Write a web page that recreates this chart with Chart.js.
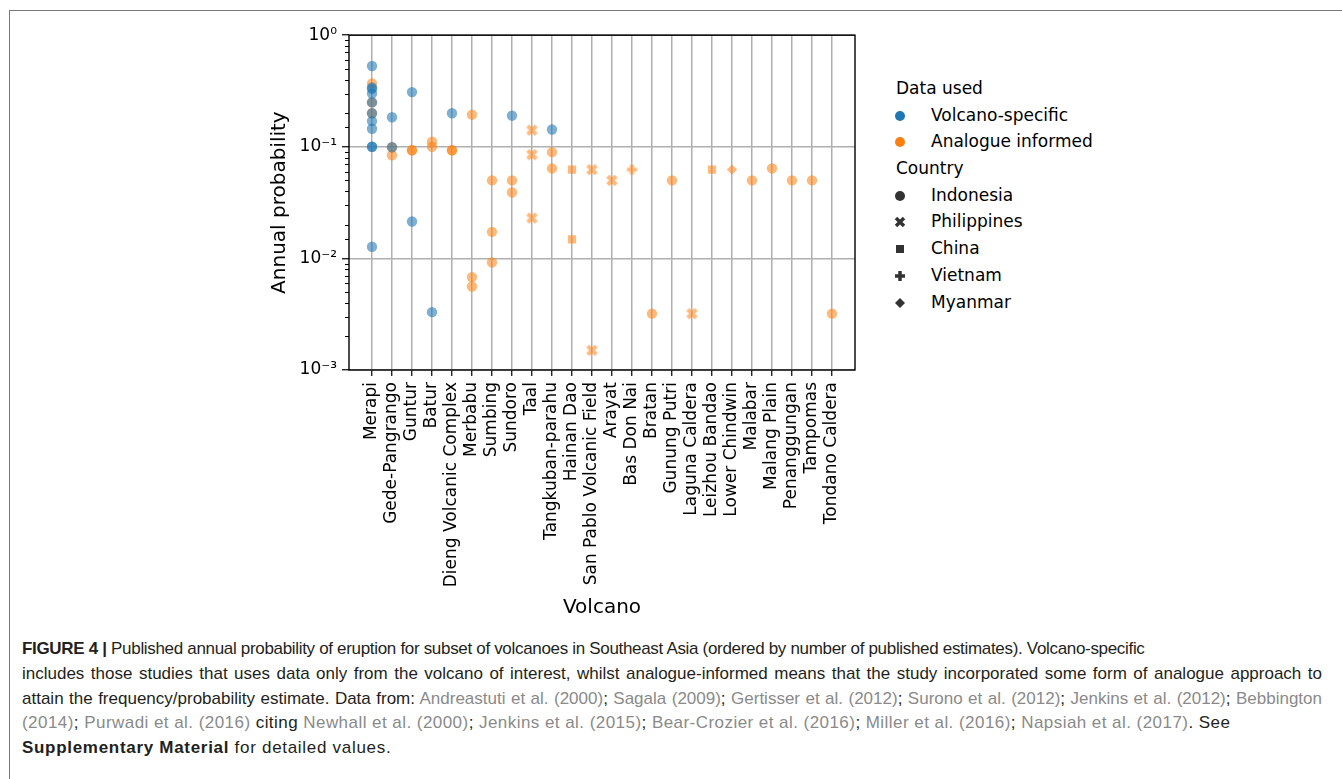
<!DOCTYPE html>
<html>
<head>
<meta charset="utf-8">
<script src="https://cdn.jsdelivr.net/npm/chart.js@4.4.0/dist/chart.umd.min.js"></script>
<style>
  body { margin: 0; background: #fff; width: 1342px; height: 779px; overflow: hidden; position: relative; font-family: "DejaVu Sans", sans-serif; }
  #frame { position: absolute; left: 9px; top: 10px; right: -5px; bottom: -5px; border-top: 1px solid #777; border-left: 1px solid #777; }
  #wrap { position: absolute; left: 240px; top: 20px; width: 630px; height: 610px; }
  #legend { position: absolute; left: 895px; top: 75px; font-size: 17px; color: #000; }
  #legend .row { height: 26.7px; line-height: 26.7px; white-space: nowrap; position: relative; }
  #legend .head { padding-left: 1px; }
  #legend svg { position: absolute; left: -1px; top: 8px; }
  #legend .txt { padding-left: 36px; }
  #caption { position: absolute; left: 22px; top: 637px; width: 1300px; font-family: "Liberation Sans", Arial, sans-serif; font-size: 17px; color: #231f20; }
  #caption .ln { height: 24.8px; line-height: 24.8px; white-space: nowrap; }
  #caption .just { text-align: justify; text-align-last: justify; white-space: normal; }
  #caption .ref { color: #8a8a8a; }
</style>
</head>
<body>
<div id="frame"></div>
<div id="wrap"><canvas id="chart"></canvas></div>

<div id="legend">
  <div class="row head">Data used</div>
  <div class="row"><svg width="12" height="12"><circle cx="6" cy="6" r="5" fill="#1f77b4"/></svg><span class="txt">Volcano-specific</span></div>
  <div class="row"><svg width="12" height="12"><circle cx="6" cy="6" r="5" fill="#ff7f0e"/></svg><span class="txt">Analogue informed</span></div>
  <div class="row head">Country</div>
  <div class="row"><svg width="12" height="12"><circle cx="6" cy="6" r="5" fill="#333"/></svg><span class="txt">Indonesia</span></div>
  <div class="row"><svg width="12" height="12"><path d="M2 2 L10 10 M10 2 L2 10" stroke="#333" stroke-width="3.5"/></svg><span class="txt">Philippines</span></div>
  <div class="row"><svg width="12" height="12"><rect x="2" y="2" width="8" height="8" fill="#333"/></svg><span class="txt">China</span></div>
  <div class="row"><svg width="12" height="12"><path d="M6 1 L6 11 M1 6 L11 6" stroke="#333" stroke-width="3.5"/></svg><span class="txt">Vietnam</span></div>
  <div class="row"><svg width="12" height="12"><path d="M6 1 L11 6 L6 11 L1 6 Z" fill="#333"/></svg><span class="txt">Myanmar</span></div>
</div>

<div id="caption">
  <div class="ln" style="letter-spacing:-0.32px"><b>FIGURE 4 |</b> Published annual probability of eruption for subset of volcanoes in Southeast Asia (ordered by number of published estimates). Volcano-specific</div>
  <div class="ln just">includes those studies that uses data only from the volcano of interest, whilst analogue-informed means that the study incorporated some form of analogue approach to</div>
  <div class="ln just">attain the frequency/probability estimate. Data from: <span class="ref">Andreastuti et al. (2000)</span>; <span class="ref">Sagala (2009)</span>; <span class="ref">Gertisser et al. (2012)</span>; <span class="ref">Surono et al. (2012)</span>; <span class="ref">Jenkins et al. (2012)</span>; <span class="ref">Bebbington</span></div>
  <div class="ln" style="letter-spacing:0.45px"><span class="ref">(2014)</span>; <span class="ref">Purwadi et al. (2016)</span> citing <span class="ref">Newhall et al. (2000)</span>; <span class="ref">Jenkins et al. (2015)</span>; <span class="ref">Bear-Crozier et al. (2016)</span>; <span class="ref">Miller et al. (2016)</span>; <span class="ref">Napsiah et al. (2017)</span>. See</div>
  <div class="ln" style="letter-spacing:0.7px"><b>Supplementary Material</b> for detailed values.</div>
</div>

<script>
// volcanoes, ordered by number of published estimates
const volcanoes = ['Merapi', 'Gede-Pangrango', 'Guntur', 'Batur', 'Dieng Volcanic Complex', 'Merbabu', 'Sumbing', 'Sundoro',
  'Taal', 'Tangkuban-parahu', 'Hainan Dao', 'San Pablo Volcanic Field', 'Arayat', 'Bas Don Nai', 'Bratan', 'Gunung Putri',
  'Laguna Caldera', 'Leizhou Bandao', 'Lower Chindwin', 'Malabar', 'Malang Plain', 'Penanggungan', 'Tampomas', 'Tondano Caldera'];

const country = ['Indonesia', 'Indonesia', 'Indonesia', 'Indonesia', 'Indonesia', 'Indonesia', 'Indonesia', 'Indonesia',
  'Philippines', 'Indonesia', 'China', 'Philippines', 'Philippines', 'Vietnam', 'Indonesia', 'Indonesia',
  'Philippines', 'China', 'Myanmar', 'Indonesia', 'Indonesia', 'Indonesia', 'Indonesia', 'Indonesia'];

// annual probability estimates per volcano
const volcanoSpecific = [
  [0.53, 0.34, 0.33, 0.30, 0.25, 0.20, 0.17, 0.145, 0.10, 0.10, 0.0127],
  [0.184, 0.099],
  [0.309, 0.0214],
  [0.0033],
  [0.20],
  [], [],
  [0.19],
  [],
  [0.143],
  [], [], [], [], [], [], [], [], [], [], [], [], [], []
];

const analogueInformed = [
  [0.37, 0.25, 0.20],
  [0.099, 0.084],
  [0.093, 0.093],
  [0.111, 0.10],
  [0.093, 0.093],
  [0.194, 0.0068, 0.0056],
  [0.05, 0.0173, 0.0092],
  [0.05, 0.039],
  [0.141, 0.085, 0.023],
  [0.0896, 0.064],
  [0.0625, 0.0148],
  [0.0625, 0.0015],
  [0.05],
  [0.0625],
  [0.0032],
  [0.05],
  [0.0032],
  [0.0625],
  [0.0625],
  [0.05],
  [0.064],
  [0.05],
  [0.05],
  [0.0032]
];

const decadeLabels = ['10⁻³', '10⁻²', '10⁻¹', '10⁰'];

const BLUE = 'rgba(31,119,180,0.58)';
const ORANGE = 'rgba(255,127,14,0.55)';

const toPoints = arr => arr.flatMap((vals, i) => vals.map(v => ({ x: i, y: v })));

function isDecade(v) {
  const l = Math.log10(v);
  return Math.abs(l - Math.round(l)) < 1e-9;
}

// filled X and plus markers, like matplotlib 'X' and 'P'
function strokeMarker(color, kind) {
  const c = document.createElement('canvas');
  c.width = 13; c.height = 13;
  const g = c.getContext('2d');
  g.strokeStyle = color;
  g.lineWidth = 4.2;
  g.beginPath();
  if (kind === 'x') {
    g.moveTo(2.3, 2.3); g.lineTo(10.7, 10.7);
    g.moveTo(10.7, 2.3); g.lineTo(2.3, 10.7);
  } else {
    g.moveTo(6.5, 1.5); g.lineTo(6.5, 11.5);
    g.moveTo(1.5, 6.5); g.lineTo(11.5, 6.5);
  }
  g.stroke();
  return c;
}

const markers = {};
[BLUE, ORANGE].forEach(col => {
  markers[col] = {
    Indonesia: 'circle',
    Philippines: strokeMarker(col, 'x'),
    China: 'rect',
    Vietnam: strokeMarker(col, 'plus'),
    Myanmar: 'rectRot'
  };
});

function dataset(label, values, color) {
  return {
    label,
    data: toPoints(values),
    backgroundColor: color,
    pointBorderWidth: 0,
    pointRadius: ctx => country[ctx.raw.x] === 'China' ? 5.8 : 5.2,
    pointStyle: ctx => markers[color][country[ctx.raw.x]]
  };
}

const framePlugin = {
  id: 'frameAndMinor',
  afterDraw(chart) {
    const { ctx, chartArea: a } = chart;
    const y = chart.scales.y;
    ctx.save();
    ctx.strokeStyle = '#000';
    ctx.lineWidth = 1;
    y.ticks.forEach(t => {
      if (isDecade(t.value)) return;
      const py = Math.round(y.getPixelForValue(t.value)) + 0.5;
      ctx.beginPath();
      ctx.moveTo(a.left, py);
      ctx.lineTo(a.left - 4, py);
      ctx.stroke();
    });
    ctx.lineWidth = 1.4;
    ctx.strokeRect(a.left, a.top, a.right - a.left, a.bottom - a.top);
    ctx.restore();
  }
};

new Chart(document.getElementById('chart'), {
  type: 'scatter',
  data: {
    datasets: [
      dataset('Volcano-specific', volcanoSpecific, BLUE),
      dataset('Analogue informed', analogueInformed, ORANGE)
    ]
  },
  options: {
    responsive: true,
    maintainAspectRatio: false,
    animation: false,
    layout: { padding: { top: 15, right: 15, left: 0, bottom: 0 } },
    plugins: { legend: { display: false }, tooltip: { enabled: false } },
    scales: {
      x: {
        type: 'linear',
        min: -1.15,
        max: 24.15,
        afterBuildTicks: s => { s.ticks = volcanoes.map((_, i) => ({ value: i })); },
        afterFit: s => { s.height = 260; },
        ticks: {
          autoSkip: false,
          minRotation: 90,
          maxRotation: 90,
          padding: 6,
          color: '#000',
          font: { family: 'DejaVu Sans', size: 17 },
          callback: v => volcanoes[v]
        },
        grid: { color: '#b0b0b0', lineWidth: 1.5, tickLength: 6, tickColor: '#000', tickWidth: 1.2 },
        border: { display: false },
        title: { display: true, text: 'Volcano', color: '#000', font: { family: 'DejaVu Sans', size: 20 }, padding: { top: 0, bottom: 10 } }
      },
      y: {
        type: 'logarithmic',
        min: 0.001,
        max: 1,
        afterFit: s => { s.width = 109; },
        ticks: {
          autoSkip: false,
          padding: 5,
          color: '#000',
          font: { family: 'DejaVu Sans', size: 17 },
          callback: v => isDecade(v) ? decadeLabels[Math.round(Math.log10(v)) + 3] : ''
        },
        grid: {
          color: c => c.tick && isDecade(c.tick.value) ? '#b0b0b0' : 'rgba(0,0,0,0)',
          tickColor: c => c.tick && isDecade(c.tick.value) ? '#000' : 'rgba(0,0,0,0)',
          lineWidth: 1.5,
          tickLength: 7,
          tickWidth: 1.2
        },
        border: { display: false },
        title: { display: true, text: 'Annual probability', color: '#000', font: { family: 'DejaVu Sans', size: 20 }, padding: { top: 28, bottom: 0 } }
      }
    }
  },
  plugins: [framePlugin]
});
</script>
</body>
</html>
